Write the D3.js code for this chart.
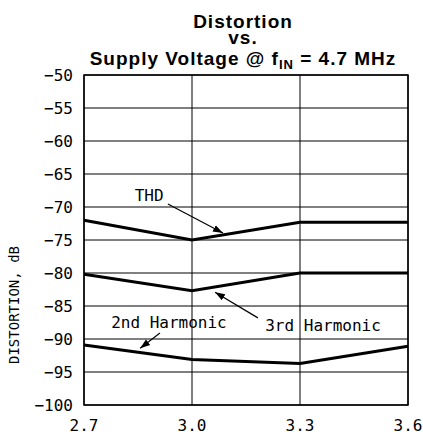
<!DOCTYPE html>
<html><head><meta charset="utf-8">
<script src="https://cdn.jsdelivr.net/npm/d3@7"></script>
<style>body{margin:0;background:#fff}svg{display:block}</style>
</head><body>
<svg id="c" width="423" height="434"></svg>
<script>
const supply = [2.7, 3.0, 3.3, 3.6];
const thd = [-72, -75, -72.3, -72.3];
const harm3 = [-80.2, -82.7, -80, -80];
const harm2 = [-90.9, -93.1, -93.7, -91.1];
const yTicks = [-50,-55,-60,-65,-70,-75,-80,-85,-90,-95,-100];
const xTicks = [2.7, 3.0, 3.3, 3.6];
const notes = [
  {text:"THD", x:2.881, y:-68.2, ax0:2.933, ay0:-69.55, ax1:3.086, ay1:-73.94},
  {text:"3rd Harmonic", x:3.364, y:-87.9, ax0:3.183, ay0:-86.8, ax1:3.064, ay1:-82.9},
  {text:"2nd Harmonic", x:2.936, y:-87.4, ax0:2.911, ay0:-89.1, ax1:2.856, ay1:-91.4}
];

const svg = d3.select("#c");
const L=84, R=408, T=75, B=405;
const x = d3.scaleLinear().domain([2.7,3.6]).range([L,R]);
const y = d3.scaleLinear().domain([-100,-50]).range([B,T]);
const mono = "'DejaVu Sans Mono', monospace";

svg.append("defs").append("marker").attr("id","ah").attr("viewBox","0 0 10 10")
  .attr("refX",10).attr("refY",5).attr("markerWidth",10).attr("markerHeight",10)
  .attr("markerUnits","userSpaceOnUse").attr("orient","auto")
  .append("path").attr("d","M0,1.5L10,5L0,8.5Z").attr("fill","#000");

// grid
svg.append("g").selectAll("line").data(yTicks).join("line")
  .attr("x1",L).attr("x2",R).attr("y1",d=>y(d)).attr("y2",d=>y(d))
  .attr("stroke","#000").attr("stroke-width",1);
svg.append("g").selectAll("line").data(xTicks).join("line")
  .attr("y1",T).attr("y2",B).attr("x1",d=>x(d)).attr("x2",d=>x(d))
  .attr("stroke","#000").attr("stroke-width",1);
svg.append("rect").attr("x",L).attr("y",T).attr("width",R-L).attr("height",B-T)
  .attr("fill","none").attr("stroke","#000").attr("stroke-width",1.5);

// tick labels
svg.append("g").selectAll("text").data(yTicks).join("text")
  .attr("x",L-11).attr("y",d=>y(d)).attr("dy","0.36em").attr("text-anchor","end")
  .attr("font-family",mono).attr("font-size",16).text(d=>"\u2212"+Math.abs(d));
svg.append("g").selectAll("text").data(xTicks).join("text")
  .attr("x",d=>x(d)).attr("y",431).attr("text-anchor","middle")
  .attr("font-family",mono).attr("font-size",16).text(d=>d.toFixed(1));

svg.append("text").attr("transform",`translate(19,${(T+B)/2+65}) rotate(-90)`)
  .attr("x",0).attr("y",0).attr("text-anchor","middle")
  .attr("font-family",mono).attr("font-size",14).text("DISTORTION, dB");

// series
const line = d3.line().x((d,i)=>x(supply[i])).y(d=>y(d));
[thd,harm3,harm2].forEach(s=>{
  svg.append("path").attr("d",line(s)).attr("fill","none").attr("stroke","#000")
    .attr("stroke-width",3).attr("stroke-linejoin","miter");
});

// annotations
notes.forEach(n=>{
  svg.append("text").attr("x",x(n.x)).attr("y",y(n.y)).attr("dy","0.36em")
    .attr("text-anchor","middle").attr("font-family",mono).attr("font-size",16).text(n.text);
  svg.append("line").attr("x1",x(n.ax0)).attr("y1",y(n.ay0)).attr("x2",x(n.ax1)).attr("y2",y(n.ay1))
    .attr("stroke","#000").attr("stroke-width",1.2).attr("marker-end","url(#ah)");
});

// title
const tf = "'Liberation Sans', Arial, sans-serif";
const tg = svg.append("g").attr("font-family",tf).attr("font-weight","bold").attr("font-size",19)
  .attr("letter-spacing","1px").attr("text-anchor","middle");
tg.append("text").attr("x",243).attr("y",28).text("Distortion");
tg.append("text").attr("x",243).attr("y",44).text("vs.");
const t3 = tg.append("text").attr("x",243).attr("y",65);
t3.append("tspan").text("Supply Voltage @ f");
t3.append("tspan").attr("font-size",13).attr("dy",4).text("IN");
t3.append("tspan").attr("dy",-4).text(" = 4.7 MHz");
</script>
</body></html>
